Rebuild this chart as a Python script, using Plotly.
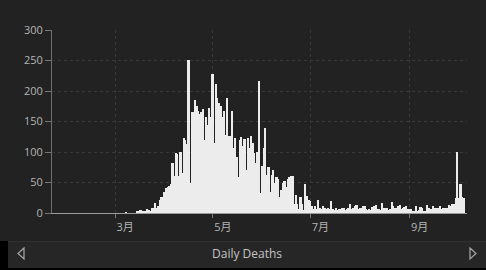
import pandas as pd
import plotly.graph_objects as go

start_date = "2020-01-22"
daily_deaths = [
    0, 0, 0, 0, 0, 0, 0, 0, 0, 0, 0, 0, 0, 0, 0, 0, 0, 0, 0, 0,
    0, 0, 0, 0, 0, 0, 0, 0, 0, 0, 0, 0, 0, 0, 0, 0, 0, 0, 0, 0,
    0, 0, 0, 0, 0, 0, 1, 0, 0, 0, 0, 0, 0,
    2, 3, 5, 3, 4, 2, 6, 5, 4, 8, 9, 17, 8, 12, 22, 26, 27, 34, 41, 43, 45, 48,
    82, 60, 98, 96, 60, 100, 65, 123, 120, 113, 251, 49,
    166, 166, 185, 175, 168, 162, 165, 170, 120, 158, 144, 172, 158, 228, 115,
    211, 188, 180, 175, 158, 168, 128, 188, 127, 127, 168, 107, 123, 92, 59,
    119, 125, 110, 121, 70, 123, 106, 127, 115, 98, 82, 100, 217, 32, 77, 106,
    139, 62, 76, 35, 63, 70, 49, 59, 56, 27, 38, 49, 52, 43, 56, 59, 60, 60,
    15, 29, 15, 7, 27, 15, 5, 48, 28, 22, 19, 12, 7, 12, 7, 22, 9, 7, 12, 9,
    7, 9, 7, 19, 7, 5, 9,
    5, 7, 6, 9, 8, 5, 7, 9, 14, 6, 8, 12, 13, 7, 9, 8, 11, 12, 6, 5,
    7, 5, 10, 12, 13, 6, 7, 5, 17, 9, 8, 9, 5, 6, 18, 11, 9, 8, 12, 13,
    7, 8, 10, 11,
    7, 6, 7, 4, 4, 11, 4, 5, 10, 9, 4, 4, 13, 9, 7, 7, 11, 9, 8, 8,
    12, 6, 9, 9, 8, 9, 13, 12, 14,
    14, 24, 100, 24, 47, 26, 24,
]
dates = pd.date_range(start_date, periods=len(daily_deaths), freq="D")

tick_dates = ["2020-03-01", "2020-05-01", "2020-07-01", "2020-09-01"]
tick_labels = ["3月", "5月", "7月", "9月"]
y_ticks = [0, 50, 100, 150, 200, 250, 300]
title_text = "Daily Deaths"

W, H = 486, 270
ML, MR, MT, MB = 52, 19, 30, 57
PW, PH = W - ML - MR, H - MT - MB


def px(x):
    return (x - ML) / PW


def py(y):
    return (H - MB - y) / PH


FONT = "Open Sans, Noto Sans CJK JP, sans-serif"

fig = go.Figure(
    go.Bar(
        x=dates,
        y=daily_deaths,
        marker=dict(color="#ececec", line=dict(width=0)),
        hoverinfo="x+y",
    )
)

shapes = [
    dict(type="rect", xref="paper", yref="paper", x0=px(0), x1=px(W), y0=py(241), y1=py(H),
         fillcolor="#000000", line=dict(width=0), layer="below"),
    dict(type="rect", xref="paper", yref="paper", x0=px(8), x1=px(W), y0=py(241), y1=py(268),
         fillcolor="#262626", line=dict(width=0), layer="below"),
    dict(type="line", xref="paper", yref="paper", x0=px(8), x1=px(W), y0=py(241.5), y1=py(241.5),
         line=dict(color="#303030", width=1)),
    dict(type="path", xref="paper", yref="paper",
         path=f"M {px(24)},{py(248)} L {px(18)},{py(253.5)} L {px(24)},{py(259)} Z",
         line=dict(color="#a8a8a8", width=1.2), fillcolor="rgba(0,0,0,0)"),
    dict(type="path", xref="paper", yref="paper",
         path=f"M {px(470)},{py(248)} L {px(476)},{py(253.5)} L {px(470)},{py(259)} Z",
         line=dict(color="#a8a8a8", width=1.2), fillcolor="rgba(0,0,0,0)"),
]

fig.update_layout(
    width=W, height=H,
    margin=dict(l=ML, r=MR, t=MT, b=MB, pad=0),
    paper_bgcolor="#222222",
    plot_bgcolor="#222222",
    bargap=0,
    showlegend=False,
    font=dict(family=FONT, color="#b4b4b4", size=11),
    shapes=shapes,
    annotations=[
        dict(text=title_text, xref="paper", yref="paper", x=px(247), y=py(253.5),
             showarrow=False, xanchor="center", yanchor="middle",
             font=dict(family=FONT, size=12, color="#c4c4c4")),
    ],
    xaxis=dict(
        type="date",
        range=["2020-01-21 12:00", "2020-10-06 22:00"],
        tickvals=tick_dates,
        ticktext=tick_labels,
        ticks="outside", ticklen=4, tickcolor="#777777",
        ticklabelshift=10,
        showgrid=True, gridcolor="#383838", griddash="3px,3px", gridwidth=1,
        showline=True, linecolor="#9a9a9a", linewidth=1,
        zeroline=False,
        tickfont=dict(size=11, color="#b4b4b4"),
    ),
    yaxis=dict(
        range=[0, 300],
        tickvals=y_ticks,
        ticks="outside", ticklen=6, tickcolor="#777777",
        showgrid=True, gridcolor="#383838", griddash="3px,3px", gridwidth=1,
        showline=True, linecolor="#6e6e6e", linewidth=1,
        zeroline=False,
        tickfont=dict(size=11, color="#b4b4b4"),
    ),
)

fig.write_html("out.html")
